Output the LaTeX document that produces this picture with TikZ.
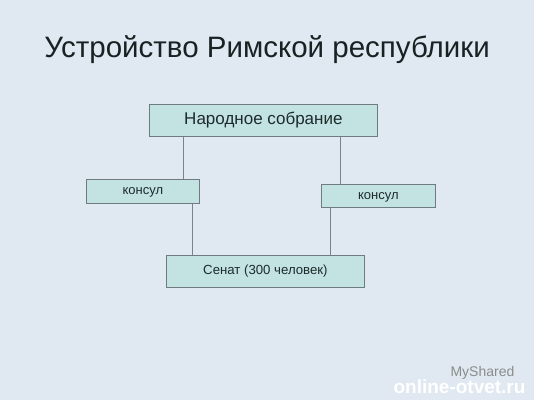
\documentclass[tikz,border=0pt]{standalone}
\usepackage{fontspec}
\setmainfont{Liberation Sans}
\begin{document}
\begin{tikzpicture}[x=1pt,y=-1pt,
  box/.style={draw=boxline, fill=boxfill, line width=0.8pt, inner sep=0pt, anchor=north west},
  link/.style={draw=linkcol, line width=0.7pt}]
\definecolor{bg}{HTML}{E0E9F1}
\definecolor{boxfill}{HTML}{C2E3E1}
\definecolor{boxline}{HTML}{6E7C80}
\definecolor{linkcol}{HTML}{7A8488}
\definecolor{txt}{HTML}{1E2A2C}
\fill[bg] (0,0) rectangle (534,400);
\useasboundingbox (0,0) rectangle (534,400);
\node[text=txt!80!black, font=\fontsize{29.5}{32}\selectfont] (title) at (267,50) {Устройство Римской республики};
\node[box, minimum width=228pt, minimum height=32pt] (nar) at (149,104) {};
\node[text=txt, font=\fontsize{17}{19}\selectfont] (nart) at (nar.center) {Народное собрание};
\node[box, minimum width=113pt, minimum height=24pt] (kl) at (86,179) {};
\node[text=txt, font=\fontsize{13}{15}\selectfont] (klt) at ([yshift=-1pt]kl.center) {консул};
\node[box, minimum width=114pt, minimum height=23pt] (kr) at (321,184) {};
\node[text=txt, font=\fontsize{13}{15}\selectfont] (krt) at ([yshift=-1pt]kr.center) {консул};
\node[box, minimum width=198pt, minimum height=32pt] (sen) at (166,255) {};
\node[text=txt, font=\fontsize{13.2}{15}\selectfont] (sent) at (sen.center) {Сенат (300 человек)};
\draw[link] ([xshift=34pt]nar.south west) -- ([xshift=34pt]nar.south west |- kl.north);
\draw[link] ([xshift=-37pt]nar.south east) -- ([xshift=-37pt]nar.south east |- kr.north);
\draw[link] ([xshift=26pt]sen.north west) -- ([xshift=26pt]sen.north west |- kl.south);
\draw[link] ([xshift=-34pt]sen.north east) -- ([xshift=-34pt]sen.north east |- kr.south);
\node[text=gray!90, font=\fontsize{14}{16}\selectfont, anchor=west] (ms) at (447,373) {MyShared};
\node[text=white, font=\bfseries\fontsize{19}{21}\selectfont, anchor=east] (oo) at (529,387) {online-otvet.ru};
\end{tikzpicture}
\end{document}
